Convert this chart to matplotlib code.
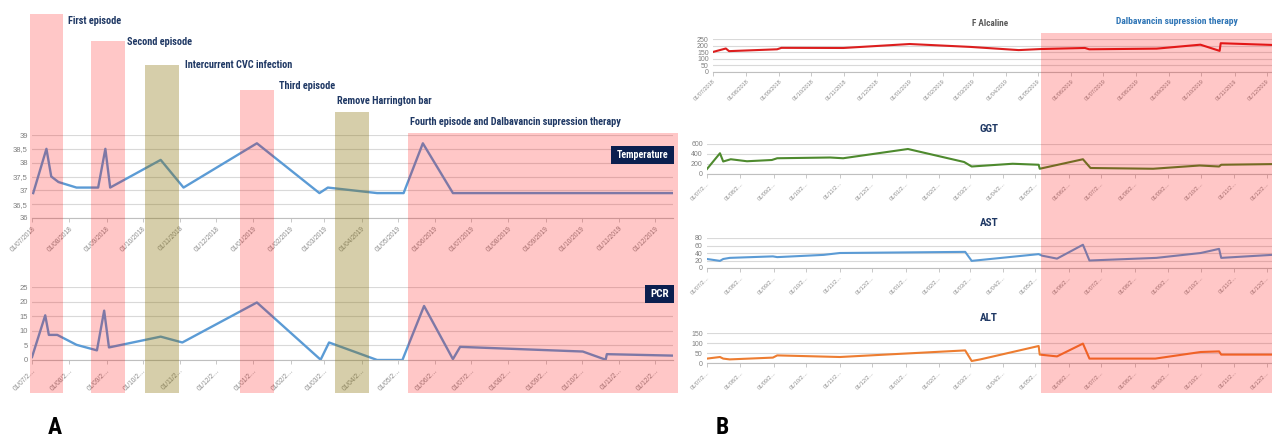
import matplotlib
matplotlib.use('Agg')
import matplotlib.pyplot as plt
import matplotlib.dates as mdates
import pandas as pd
from matplotlib.patches import Rectangle
from matplotlib.transforms import blended_transform_factory

W, H = 1272, 438

# ---------- panel A data ----------
temp_dates = ['2018-07-02', '2018-07-13', '2018-07-17', '2018-07-23', '2018-08-07', '2018-08-25',
              '2018-08-31', '2018-09-04', '2018-10-16', '2018-11-04', '2019-01-04', '2019-02-25',
              '2019-03-04', '2019-04-14', '2019-05-06', '2019-05-22', '2019-06-16', '2019-12-16']
temp_values = [36.9, 38.5, 37.5, 37.3, 37.1, 37.1, 38.5, 37.1, 38.1, 37.1, 38.7, 36.9,
               37.1, 36.9, 36.9, 38.7, 36.9, 36.9]

pcr_dates = ['2018-07-01', '2018-07-12', '2018-07-15', '2018-07-22', '2018-08-07', '2018-08-24',
             '2018-08-30', '2018-09-03', '2018-10-16', '2018-11-03', '2019-01-04', '2019-02-26',
             '2019-03-05', '2019-04-14', '2019-05-05', '2019-05-23', '2019-06-16', '2019-06-22',
             '2019-10-02', '2019-10-21', '2019-10-22', '2019-12-16']
pcr_values = [1.0, 15.3, 8.6, 8.6, 5.2, 3.3, 16.9, 4.3, 8.0, 6.0, 19.7, 0.1,
              6.0, 0.0, 0.0, 18.5, 0.3, 4.5, 2.9, 0.1, 2.0, 1.5]

event_labels = ['First episode', 'Second episode', 'Intercurrent CVC infection', 'Third episode',
                'Remove Harrington bar', 'Fourth episode and Dalbavancin supression therapy']
event_start = ['2018-06-29', '2018-08-19', '2018-10-03', '2018-12-21', '2019-03-10', '2019-05-10']
event_end = ['2018-07-27', '2018-09-16', '2018-10-31', '2019-01-18', '2019-04-07', '2019-12-20']
event_kind = ['episode', 'episode', 'surgery', 'episode', 'surgery', 'episode']

# ---------- panel B data ----------
falc_dates = ['2018-07-01', '2018-07-13', '2018-07-16', '2018-08-30', '2018-09-03', '2018-10-31',
              '2019-01-01', '2019-02-27', '2019-04-13', '2019-05-04', '2019-06-14', '2019-06-18',
              '2019-08-20', '2019-09-30', '2019-10-18', '2019-10-19', '2019-12-06']
falc_values = [152, 178, 158, 172, 183, 182, 212, 190, 166, 174, 182, 172, 177, 207, 160, 218, 205]

ggt_dates = ['2018-07-01', '2018-07-13', '2018-07-16', '2018-07-23', '2018-08-07', '2018-08-30',
             '2018-09-04', '2018-10-23', '2018-11-04', '2019-01-03', '2019-02-24', '2019-03-03',
             '2019-04-10', '2019-05-04', '2019-05-05', '2019-06-14', '2019-06-21', '2019-08-18',
             '2019-09-30', '2019-10-18', '2019-10-20', '2019-12-06']
ggt_values = [100, 415, 250, 295, 255, 280, 315, 330, 315, 500, 240, 150,
              205, 185, 105, 295, 120, 105, 170, 150, 185, 198]

ast_dates = ['2018-07-01', '2018-07-13', '2018-07-16', '2018-07-22', '2018-08-31', '2018-09-04',
             '2018-10-17', '2018-11-01', '2019-02-25', '2019-03-03', '2019-05-04', '2019-05-07',
             '2019-05-21', '2019-06-14', '2019-06-20', '2019-08-21', '2019-10-01', '2019-10-18',
             '2019-10-20', '2019-12-06']
ast_values = [24, 19, 24, 27, 31, 29, 35, 40, 43, 19, 37, 33, 25, 62, 20, 27, 40, 51, 27, 35]

alt_dates = ['2018-07-01', '2018-07-13', '2018-07-16', '2018-07-22', '2018-08-31', '2018-09-04',
             '2018-11-01', '2019-02-25', '2019-03-03', '2019-03-11', '2019-05-04', '2019-05-05',
             '2019-05-21', '2019-06-14', '2019-06-20', '2019-08-20', '2019-10-01', '2019-10-18',
             '2019-10-20', '2019-12-06']
alt_values = [22, 30, 22, 18, 27, 38, 30, 63, 10, 18, 85, 42, 33, 97, 22, 22, 55, 58, 42, 42]

therapy_start = '2019-05-04'
therapy_end = '2020-01-31'

# ---------- helpers ----------
NARROW = ['Roboto Condensed', 'Liberation Sans Narrow', 'Liberation Sans', 'DejaVu Sans']
TICKFONT = ['Liberation Sans', 'DejaVu Sans']
NAVY = '#1F3864'


def box(l, t, r, b):
    return [l / W, 1 - b / H, (r - l) / W, (b - t) / H]


def fy(py):
    return 1 - py / H


def style_axis(ax, ylim, yticks, ylabels, xlim, xfmt, xfs, yfs):
    ax.set_facecolor('none')
    for s in ['top', 'right', 'left']:
        ax.spines[s].set_visible(False)
    ax.spines['bottom'].set_color('#BFBFBF')
    ax.spines['bottom'].set_linewidth(0.8)
    ax.set_ylim(*ylim)
    ax.set_yticks(yticks)
    ax.set_yticklabels(ylabels, fontfamily=TICKFONT)
    ax.grid(axis='y', color='#D9D9D9', linewidth=0.8)
    ax.set_axisbelow(True)
    ax.tick_params(axis='y', length=0, labelsize=yfs, labelcolor='#7F7F7F', pad=3)
    ax.set_xlim(pd.to_datetime(xlim[0]), pd.to_datetime(xlim[1]))
    months = pd.date_range('2018-07-01', '2019-12-01', freq='MS')
    ax.set_xticks(months)
    ax.set_xticklabels([xfmt(m) for m in months], rotation=45, ha='right', va='top',
                       rotation_mode='anchor', fontfamily=TICKFONT)
    ax.tick_params(axis='x', length=3, width=0.6, color='#BFBFBF', labelsize=xfs,
                   labelcolor='#8C8C8C', pad=2)


full_fmt = lambda m: m.strftime('%d/%m/%Y')
short_fmt = lambda m: m.strftime('%d/%m/') + '2…'

fig = plt.figure(figsize=(W / 100, H / 100), dpi=100)

# ---------- panel A ----------
xlim_a = ('2018-07-01', '2019-12-16')
ax_t = fig.add_axes(box(32, 135, 673, 218))
ax_t.plot(pd.to_datetime(temp_dates), temp_values, color='#5B9BD5', lw=1.7)
style_axis(ax_t, (36, 39), [36, 36.5, 37, 37.5, 38, 38.5, 39],
           ['36', '36,5', '37', '37,5', '38', '38,5', '39'], xlim_a, full_fmt, 4.8, 5.5)

ax_p = fig.add_axes(box(32, 287, 673, 360))
ax_p.plot(pd.to_datetime(pcr_dates), pcr_values, color='#5B9BD5', lw=1.7)
style_axis(ax_p, (0, 25), [0, 5, 10, 15, 20, 25],
           ['0', '5', '10', '15', '20', '25'], xlim_a, short_fmt, 4.8, 5.5)

band_top = [14, 41, 65, 90, 112, 133]
trans_a = blended_transform_factory(ax_t.transData, fig.transFigure)
for lab, s, e, kind, top in zip(event_labels, event_start, event_end, event_kind, band_top):
    x0 = mdates.date2num(pd.to_datetime(s))
    x1 = mdates.date2num(pd.to_datetime(e))
    if kind == 'episode':
        fc, al = '#FF0000', 0.22
    else:
        fc, al = '#8A730C', 0.35
    fig.add_artist(Rectangle((x0, fy(393)), x1 - x0, fy(top) - fy(393), transform=trans_a,
                             facecolor=fc, alpha=al, edgecolor='none', zorder=2))

label_pos = [(68, 21), (127, 42), (185, 65), (279, 86), (337, 101), (410, 122)]
for lab, (px, py) in zip(event_labels, label_pos):
    fig.text(px / W, fy(py), lab, ha='left', va='center', fontsize=7.4, fontweight='bold',
             color=NAVY, family=NARROW, zorder=4)

for txt, (l, t, r, b), fs in [('Temperature', (611, 146, 674, 164), 7.2),
                              ('PCR', (645, 285, 674, 303), 8)]:
    fig.add_artist(Rectangle((l / W, fy(b)), (r - l) / W, (b - t) / H, transform=fig.transFigure,
                             facecolor='#0B1F4F', edgecolor='none', zorder=3))
    fig.text((l + r) / 2 / W, fy((t + b) / 2), txt, ha='center', va='center', fontsize=fs,
             fontweight='bold', color='white', family=NARROW, zorder=4)

# ---------- panel B ----------
xlim_b = ('2018-07-01', '2019-12-06')
ax_f = fig.add_axes(box(713, 39, 1272, 72))
ax_f.plot(pd.to_datetime(falc_dates), falc_values, color='#DC1E1E', lw=1.5)
style_axis(ax_f, (0, 250), [0, 50, 100, 150, 200, 250],
           ['0', '50', '100', '150', '200', '250'], xlim_b, full_fmt, 4.0, 5.0)

ax_g = fig.add_axes(box(707, 144, 1272, 174))
ax_g.plot(pd.to_datetime(ggt_dates), ggt_values, color='#4E8A2E', lw=1.5)
style_axis(ax_g, (0, 600), [0, 200, 400, 600], ['0', '200', '400', '600'],
           xlim_b, short_fmt, 4.0, 5.0)

ax_s = fig.add_axes(box(707, 238, 1272, 268))
ax_s.plot(pd.to_datetime(ast_dates), ast_values, color='#5B9BD5', lw=1.5)
style_axis(ax_s, (0, 80), [0, 20, 40, 60, 80], ['0', '20', '40', '60', '80'],
           xlim_b, short_fmt, 4.0, 5.0)

ax_l = fig.add_axes(box(707, 333, 1272, 363))
ax_l.plot(pd.to_datetime(alt_dates), alt_values, color='#ED7D31', lw=1.5)
style_axis(ax_l, (0, 150), [0, 50, 100, 150], ['0', '50', '100', '150'],
           xlim_b, short_fmt, 4.0, 5.0)

trans_b = blended_transform_factory(ax_f.transData, fig.transFigure)
x0 = mdates.date2num(pd.to_datetime(therapy_start))
x1 = mdates.date2num(pd.to_datetime(therapy_end))
fig.add_artist(Rectangle((x0, fy(393)), x1 - x0, fy(33) - fy(393), transform=trans_b,
                         facecolor='#FF0000', alpha=0.22, edgecolor='none', zorder=2))

fig.text(990 / W, fy(24), 'F Alcaline', ha='center', va='center', fontsize=6.6,
         fontweight='bold', color='#595959', family=NARROW, zorder=4)
fig.text(1177 / W, fy(21), 'Dalbavancin supression therapy', ha='center', va='center',
         fontsize=6.8, fontweight='bold', color='#2E75B6', family=NARROW, zorder=4)
for txt, py in [('GGT', 129), ('AST', 223), ('ALT', 318)]:
    fig.text(989 / W, fy(py), txt, ha='center', va='center', fontsize=8,
             fontweight='bold', color=NAVY, family=NARROW, zorder=4)

fig.text(55 / W, fy(428), 'A', ha='center', va='center', fontsize=17, fontweight='bold',
         color='black', family=NARROW)
fig.text(722 / W, fy(428), 'B', ha='center', va='center', fontsize=17, fontweight='bold',
         color='black', family=NARROW)

fig.savefig('out.png', dpi=100)
